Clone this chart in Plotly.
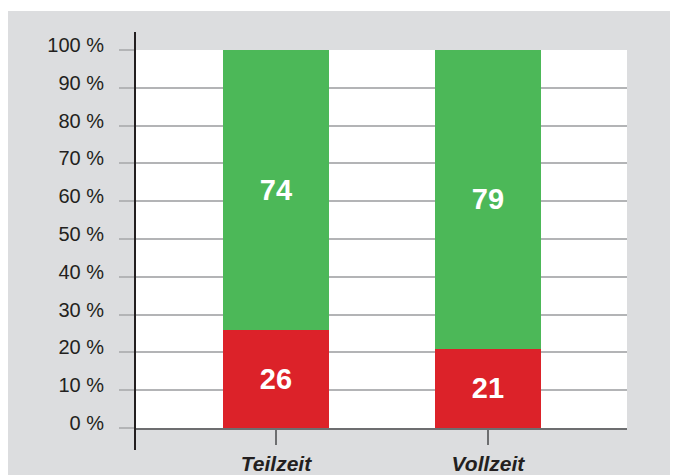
import plotly.graph_objects as go

categories = ["Teilzeit", "Vollzeit"]
red_values = [26, 21]
green_values = [74, 79]
y_ticks = [0, 10, 20, 30, 40, 50, 60, 70, 80, 90, 100]
y_tick_labels = [f"{v} %" for v in y_ticks]

RED = "#dc2229"
GREEN = "#4cb858"
TXT = "#231f20"
FONT = "Liberation Sans, Arial"

fig = go.Figure()
for vals, col in ((red_values, RED), (green_values, GREEN)):
    fig.add_trace(go.Bar(x=categories, y=vals, marker=dict(color=col, line=dict(width=0)),
                         text=[str(v) for v in vals], textposition="inside", insidetextanchor="middle",
                         textfont=dict(color="white", size=29, family=FONT, weight="bold"),
                         width=0.5))

# page has an 8px body margin; positions below are in figure pixels
OFF = 8
W, H = 670, 467
L, T = 135 - OFF, 50 - OFF
R = W - (627 - OFF)
B = H - (428 - OFF)
pw, ph = W - L - R, H - T - B

def px_x(x):
    return (x - OFF - L) / pw

def px_y(y):
    return (H - B - (y - OFF)) / ph

shapes = [
    dict(type="rect", xref="paper", yref="paper", x0=px_x(0), x1=px_x(700), y0=px_y(11), y1=px_y(500),
         fillcolor="#dcdddf", line=dict(width=0), layer="below"),
    dict(type="rect", xref="paper", yref="paper", x0=0, x1=1, y0=0, y1=1,
         fillcolor="white", line=dict(width=0), layer="below"),
    dict(type="line", xref="paper", yref="paper", x0=0, x1=0, y0=px_y(32), y1=px_y(450),
         line=dict(color=TXT, width=2), layer="above"),
]

fig.update_layout(
    width=W, height=H, barmode="stack", showlegend=False,
    margin=dict(l=L, r=R, t=T, b=B, autoexpand=False),
    paper_bgcolor="white", plot_bgcolor="rgba(0,0,0,0)",
    shapes=shapes,
    font=dict(family=FONT, color=TXT),
)
fig.update_xaxes(range=[-0.665, 1.656], showgrid=False, showline=True, linecolor="#6d6e70", linewidth=2,
                 ticks="outside", ticklen=15, tickcolor="#6d6e70", tickwidth=1.5,
                 tickfont=dict(size=21, family=FONT, color=TXT, weight="bold", style="italic"),
                 ticklabelstandoff=1, zeroline=False)
fig.update_yaxes(range=[0, 100], tickvals=y_ticks, ticktext=y_tick_labels, showgrid=True,
                 gridcolor="#b3b4b6", gridwidth=1.5, ticks="outside", ticklen=15, tickcolor="#b3b4b6",
                 tickwidth=1.5, ticklabelstandoff=11, ticklabelshift=-5, showline=False, zeroline=False,
                 tickfont=dict(size=20, family=FONT, color=TXT))

fig.write_html("out.html")
